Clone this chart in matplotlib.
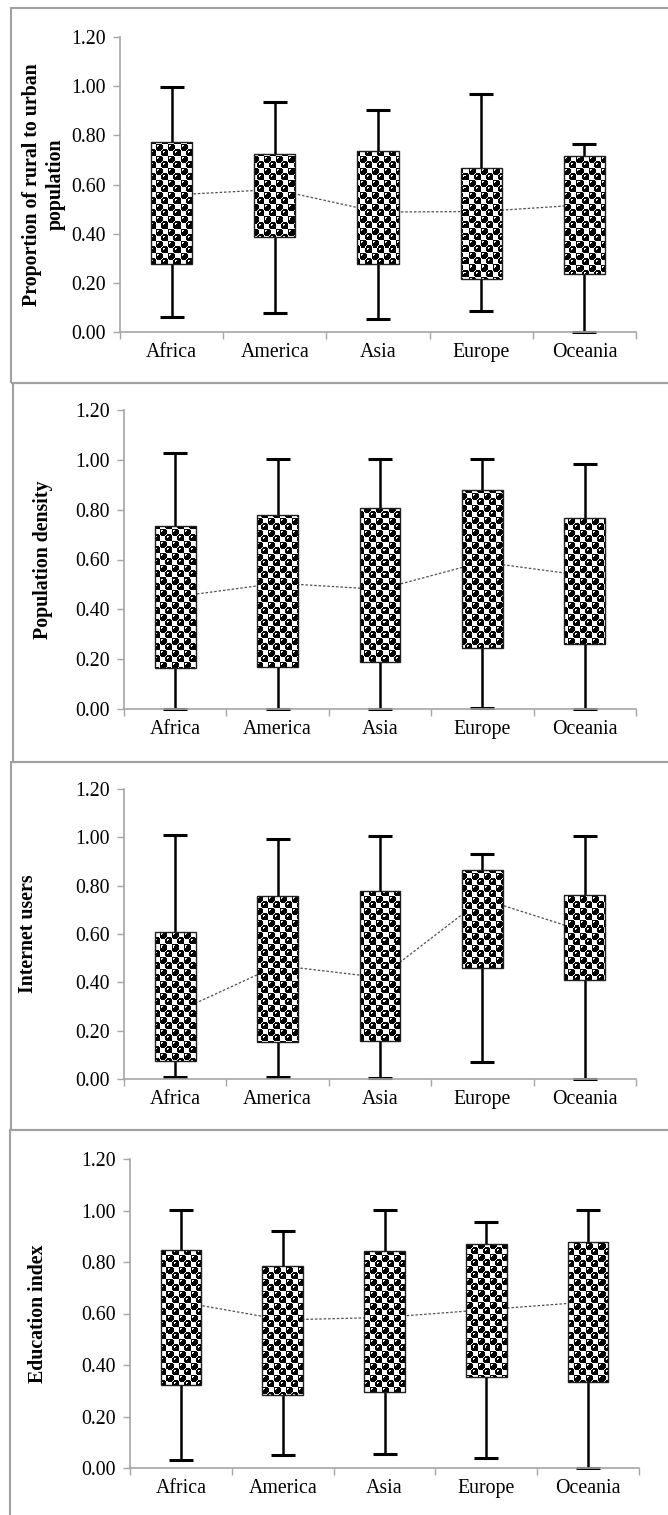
import numpy as np
import matplotlib.pyplot as plt
from matplotlib.patches import Rectangle

plt.rcParams['font.family'] = ['Liberation Serif', 'DejaVu Serif']

regions = ['Africa', 'America', 'Asia', 'Europe', 'Oceania']

# rural to urban population
rural_min = [0.062, 0.076, 0.053, 0.085, 0.0]
rural_q1 = [0.275, 0.385, 0.275, 0.214, 0.235]
rural_med = [0.557, 0.580, 0.488, 0.490, 0.518]
rural_q3 = [0.774, 0.724, 0.736, 0.666, 0.716]
rural_max = [0.995, 0.937, 0.903, 0.967, 0.765]

# population density
density_min = [0.0, 0.0, 0.0, 0.005, 0.0]
density_q1 = [0.165, 0.170, 0.190, 0.245, 0.260]
density_med = [0.450, 0.505, 0.480, 0.590, 0.535]
density_q3 = [0.735, 0.780, 0.805, 0.880, 0.765]
density_max = [1.028, 1.005, 1.005, 1.005, 0.985]

# internet users
internet_min = [0.010, 0.007, 0.003, 0.069, 0.0]
internet_q1 = [0.075, 0.152, 0.157, 0.461, 0.410]
internet_med = [0.275, 0.470, 0.420, 0.745, 0.610]
internet_q3 = [0.610, 0.758, 0.779, 0.866, 0.762]
internet_max = [1.008, 0.994, 1.004, 0.931, 1.004]

# education index
edu_min = [0.032, 0.052, 0.056, 0.039, 0.0]
edu_q1 = [0.321, 0.285, 0.295, 0.352, 0.334]
edu_med = [0.645, 0.575, 0.585, 0.615, 0.645]
edu_q3 = [0.845, 0.783, 0.841, 0.870, 0.876]
edu_max = [1.003, 0.922, 1.003, 0.954, 1.003]

panels = [
    ('Proportion of rural to urban\npopulation', rural_min, rural_q1, rural_med, rural_q3, rural_max),
    ('Population density', density_min, density_q1, density_med, density_q3, density_max),
    ('Internet users', internet_min, internet_q1, internet_med, internet_q3, internet_max),
    ('Education index', edu_min, edu_q1, edu_med, edu_q3, edu_max),
]

W, H = 668, 1515
fig = plt.figure(figsize=(W / 100, H / 100), dpi=100)

# axes boxes in pixels: left, right, y of 1.20, y of 0.00, ylabel centre x
axes_px = [(120, 636, 37, 332, 44),
           (124, 636, 410, 709, 43),
           (124, 636, 789, 1079, 28),
           (130, 639, 1159, 1468, 38)]
# panel frames in pixels: left, top, bottom
frames_px = [(11, 8, 383), (13, 383, 762), (11, 762, 1130), (10, 1130, 1530)]

# "sphere" fill texture (checker of black balls with a white highlight)
T = 12
yy, xx = np.mgrid[0:T, 0:T] + 0.5
tile = np.ones((T, T))
for cx, cy in [(T / 4, T / 4), (3 * T / 4, 3 * T / 4)]:
    tile[np.hypot(xx - cx, yy - cy) < 3.9] = 0
    tile[np.hypot(xx - cx + 1.2, yy - cy + 1.2) < 0.9] = 1

grey = '#a6a6a6'
x = np.arange(len(regions))

for (label, vmin, q1, med, q3, vmax), (l, r, t, b, lx) in zip(panels, axes_px):
    ax = fig.add_axes([l / W, 1 - b / H, (r - l) / W, (b - t) / H])
    vmin, q1, med, q3, vmax = map(np.array, (vmin, q1, med, q3, vmax))

    ax.plot(x, med, color='#505050', lw=0.9, ls=(0, (2, 1.5)), zorder=1)
    ax.errorbar(x, (vmin + vmax) / 2, yerr=(vmax - vmin) / 2, fmt='none',
                ecolor='black', elinewidth=1.8, capsize=8.5, capthick=2.2,
                zorder=2, clip_on=False)
    bars = ax.bar(x, q3 - q1, bottom=q1, width=0.4, facecolor='none',
                  edgecolor='#202020', linewidth=1.0, zorder=3)

    pattern = np.tile(tile, ((b - t) // T + 1, (r - l) // T + 1))[:b - t, :r - l]
    for bar in bars:
        im = ax.imshow(pattern, cmap='gray', vmin=0, vmax=1, aspect='auto',
                       interpolation='nearest', extent=(-0.5, len(regions) - 0.5, 0, 1.2),
                       zorder=2.9)
        im.set_clip_path(bar)

    ax.set_xlim(-0.5, len(regions) - 0.5)
    ax.set_ylim(0, 1.2)
    ax.set_yticks(np.arange(0, 1.21, 0.2))
    ax.set_yticklabels(['%.2f' % v for v in np.arange(0, 1.21, 0.2)])
    ax.set_xticks(x)
    ax.set_xticklabels(regions)
    ax.set_xticks(np.arange(-0.5, len(regions)), minor=True)
    ax.tick_params(axis='x', which='major', length=0, pad=8, labelsize=14.3)
    ax.tick_params(axis='x', which='minor', length=5, color=grey, width=1)
    ax.tick_params(axis='y', length=5, color=grey, width=1, pad=5, labelsize=14.3)

    for s in ['top', 'right']:
        ax.spines[s].set_visible(False)
    for s in ['left', 'bottom']:
        ax.spines[s].set_color(grey)
        ax.spines[s].set_linewidth(1.2)

    ax.set_ylabel(label, fontsize=14.3, fontweight='bold', linespacing=1.2, va='center')
    ax.yaxis.set_label_coords((lx - l) / (r - l), 0.5)

for fl, ft, fb in frames_px:
    fig.patches.append(Rectangle((fl / W, 1 - fb / H), (W + 20 - fl) / W, (fb - ft) / H,
                                 transform=fig.transFigure, fill=False,
                                 edgecolor='#a0a0a0', linewidth=1.5))

fig.savefig('out.png', dpi=100)
